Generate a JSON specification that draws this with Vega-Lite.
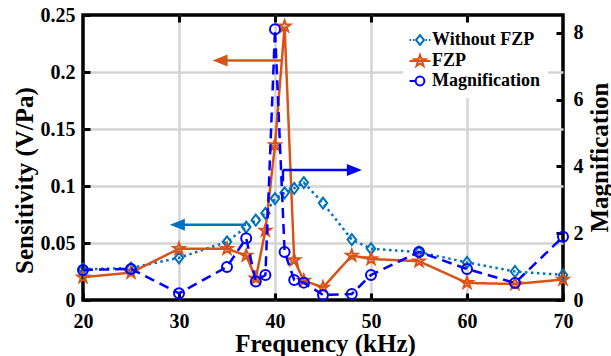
{
  "$schema": "https://vega.github.io/schema/vega-lite/v6.json",
  "width": 480,
  "height": 285,
  "autosize": {"type": "none"},
  "padding": {"left": 83, "top": 15, "right": 48, "bottom": 56},
  "background": "white",
  "config": {
    "font": "Liberation Serif",
    "view": {"stroke": "black", "strokeWidth": 3.5},
    "axis": {
      "labelFont": "Liberation Serif", "labelFontWeight": "bold", "labelFontSize": 20, "labelColor": "black",
      "titleFont": "Liberation Serif", "titleFontWeight": "bold", "titleFontSize": 25, "titleColor": "black",
      "domain": false, "tickColor": "black", "tickWidth": 3, "tickSize": -7, "labelFlush": false, "labelOverlap": false,
      "gridColor": "#d4d4d4", "gridWidth": 2.5
    }
  },
  "datasets": {
    "main": [
      {"f": 20, "series": "Without FZP", "value": 0.027},
      {"f": 25, "series": "Without FZP", "value": 0.028},
      {"f": 30, "series": "Without FZP", "value": 0.037},
      {"f": 35, "series": "Without FZP", "value": 0.051},
      {"f": 37, "series": "Without FZP", "value": 0.064},
      {"f": 38, "series": "Without FZP", "value": 0.070},
      {"f": 39, "series": "Without FZP", "value": 0.076},
      {"f": 40, "series": "Without FZP", "value": 0.089},
      {"f": 41, "series": "Without FZP", "value": 0.094},
      {"f": 42, "series": "Without FZP", "value": 0.098},
      {"f": 43, "series": "Without FZP", "value": 0.103},
      {"f": 45, "series": "Without FZP", "value": 0.085},
      {"f": 48, "series": "Without FZP", "value": 0.053},
      {"f": 50, "series": "Without FZP", "value": 0.045},
      {"f": 55, "series": "Without FZP", "value": 0.042},
      {"f": 60, "series": "Without FZP", "value": 0.033},
      {"f": 65, "series": "Without FZP", "value": 0.025},
      {"f": 70, "series": "Without FZP", "value": 0.022},
      {"f": 20, "series": "FZP", "value": 0.020},
      {"f": 25, "series": "FZP", "value": 0.024},
      {"f": 30, "series": "FZP", "value": 0.045},
      {"f": 35, "series": "FZP", "value": 0.045},
      {"f": 37, "series": "FZP", "value": 0.039},
      {"f": 38, "series": "FZP", "value": 0.019},
      {"f": 39, "series": "FZP", "value": 0.061},
      {"f": 40, "series": "FZP", "value": 0.136},
      {"f": 41, "series": "FZP", "value": 0.240},
      {"f": 42, "series": "FZP", "value": 0.035},
      {"f": 43, "series": "FZP", "value": 0.017},
      {"f": 45, "series": "FZP", "value": 0.011},
      {"f": 48, "series": "FZP", "value": 0.039},
      {"f": 50, "series": "FZP", "value": 0.036},
      {"f": 55, "series": "FZP", "value": 0.034},
      {"f": 60, "series": "FZP", "value": 0.015},
      {"f": 65, "series": "FZP", "value": 0.014},
      {"f": 70, "series": "FZP", "value": 0.018},
      {"f": 20, "series": "Magnification", "value": 0.90},
      {"f": 25, "series": "Magnification", "value": 0.93},
      {"f": 30, "series": "Magnification", "value": 0.20},
      {"f": 35, "series": "Magnification", "value": 0.99},
      {"f": 37, "series": "Magnification", "value": 1.85},
      {"f": 38, "series": "Magnification", "value": 0.55},
      {"f": 39, "series": "Magnification", "value": 0.75},
      {"f": 40, "series": "Magnification", "value": 8.1},
      {"f": 41, "series": "Magnification", "value": 1.44},
      {"f": 42, "series": "Magnification", "value": 0.60},
      {"f": 43, "series": "Magnification", "value": 0.52},
      {"f": 45, "series": "Magnification", "value": 0.15},
      {"f": 48, "series": "Magnification", "value": 0.18},
      {"f": 50, "series": "Magnification", "value": 0.75},
      {"f": 55, "series": "Magnification", "value": 1.44},
      {"f": 60, "series": "Magnification", "value": 0.93},
      {"f": 65, "series": "Magnification", "value": 0.51},
      {"f": 70, "series": "Magnification", "value": 1.89}
    ],
    "arrows": [
      {"series": "FZP", "xa": 34, "xb": 40.75, "ya": 0.21, "yb": 0.21},
      {"series": "Without FZP", "xa": 30, "xb": 37, "ya": 0.066, "yb": 0.066},
      {"series": "Magnification", "xa": 40.83, "xb": 48, "ya": 0.114, "yb": 0.114},
      {"series": "Magnification", "xa": 40.83, "xb": 40.83, "ya": 0.104, "yb": 0.114}
    ],
    "heads": [
      {"series": "FZP", "x": 33.5, "y": 0.21, "dir": "left"},
      {"series": "Without FZP", "x": 29.05, "y": 0.066, "dir": "left"},
      {"series": "Magnification", "x": 49.05, "y": 0.114, "dir": "right"}
    ]
  },
  "layer": [
    {
      "data": {"name": "main"},
      "transform": [{"filter": "datum.series !== 'Magnification'"}],
      "mark": {"type": "line", "strokeWidth": 2.5},
      "encoding": {
        "x": {"field": "f", "type": "quantitative", "scale": {"domain": [20, 70], "nice": false},
          "axis": {"orient": "bottom", "title": "Frequency (kHz)", "values": [20, 30, 40, 50, 60, 70],
            "labelPadding": 18, "titleX": 242, "titleY": 43, "titleBaseline": "middle", "titleAlign": "center",
            "grid": true, "gridOpacity": {"condition": {"test": "datum.value === 20 || datum.value === 70", "value": 0}, "value": 1}}},
        "y": {"field": "value", "type": "quantitative", "scale": {"domain": [0, 0.25], "nice": false},
          "axis": {"orient": "left", "title": "Sensitivity (V/Pa)", "values": [0, 0.05, 0.1, 0.15, 0.2, 0.25], "format": "~g",
            "labelPadding": 15, "titleX": -59, "titleY": 165, "titleAngle": 270, "titleBaseline": "middle", "titleAlign": "center",
            "grid": true, "gridOpacity": {"condition": {"test": "datum.value === 0 || datum.value === 0.25", "value": 0}, "value": 1}}},
        "stroke": {"field": "series", "type": "nominal",
          "scale": {"domain": ["FZP", "Magnification", "Without FZP"], "range": ["#D95319", "#0000FF", "#0072BD"]},
          "legend": null},
        "strokeDash": {"field": "series", "type": "nominal",
          "scale": {"domain": ["Magnification", "Without FZP", "FZP"], "range": [[10, 6], [2.5, 3.5], [1, 0]]},
          "legend": null}
      }
    },
    {
      "data": {"name": "main"},
      "transform": [{"filter": "datum.series === 'Without FZP'"}],
      "mark": {"type": "point", "shape": "M0,-1.1L0.85,0L0,1.1L-0.85,0Z", "filled": false, "fill": "transparent", "strokeWidth": 2, "size": 100, "opacity": 1},
      "encoding": {
        "x": {"field": "f", "type": "quantitative", "scale": {"domain": [20, 70], "nice": false},
          "axis": {"orient": "top", "title": null, "labels": false, "values": [30, 40, 50, 60], "grid": false}},
        "y": {"field": "value", "type": "quantitative", "scale": {"domain": [0, 0.25], "nice": false}, "axis": null},
        "stroke": {"field": "series", "type": "nominal", "legend": null}
      }
    },
    {
      "data": {"name": "main"},
      "transform": [{"filter": "datum.series === 'FZP'"}],
      "mark": {"type": "point", "shape": "M0,-1.2L0.282,-0.388L1.141,-0.371L0.457,0.148L0.705,0.971L0,0.48L-0.705,0.971L-0.457,0.148L-1.141,-0.371L-0.282,-0.388Z", "filled": false, "fill": "transparent", "strokeWidth": 2, "size": 100, "opacity": 1},
      "encoding": {
        "x": {"field": "f", "type": "quantitative", "scale": {"domain": [20, 70], "nice": false}, "axis": null},
        "y": {"field": "value", "type": "quantitative", "scale": {"domain": [0, 0.25], "nice": false}, "axis": null},
        "stroke": {"field": "series", "type": "nominal", "legend": null}
      }
    },
    {
      "data": {"name": "arrows"},
      "mark": {"type": "rule", "strokeWidth": 2.5},
      "encoding": {
        "x": {"field": "xa", "type": "quantitative", "scale": {"domain": [20, 70], "nice": false}, "axis": null},
        "x2": {"field": "xb"},
        "y": {"field": "ya", "type": "quantitative", "scale": {"domain": [0, 0.25], "nice": false}, "axis": null},
        "y2": {"field": "yb"},
        "stroke": {"field": "series", "type": "nominal", "legend": null}
      }
    },
    {
      "data": {"name": "heads"},
      "transform": [{"filter": "datum.dir === 'left'"}],
      "mark": {"type": "point", "shape": "M0,0L2,-0.8L2,0.8Z", "filled": true, "size": 225, "opacity": 1, "strokeWidth": 0},
      "encoding": {
        "x": {"field": "x", "type": "quantitative", "scale": {"domain": [20, 70], "nice": false}, "axis": null},
        "y": {"field": "y", "type": "quantitative", "scale": {"domain": [0, 0.25], "nice": false}, "axis": null},
        "fill": {"field": "series", "type": "nominal",
          "scale": {"domain": ["Magnification", "FZP", "Without FZP"], "range": ["#0000FF", "#D95319", "#0072BD"]},
          "legend": null}
      }
    },
    {
      "data": {"name": "heads"},
      "transform": [{"filter": "datum.dir === 'right'"}],
      "mark": {"type": "point", "shape": "M0,0L-2,-0.8L-2,0.8Z", "filled": true, "size": 225, "opacity": 1, "strokeWidth": 0},
      "encoding": {
        "x": {"field": "x", "type": "quantitative", "scale": {"domain": [20, 70], "nice": false}, "axis": null},
        "y": {"field": "y", "type": "quantitative", "scale": {"domain": [0, 0.25], "nice": false}, "axis": null},
        "fill": {"field": "series", "type": "nominal", "legend": null}
      }
    },
    {
      "data": {"name": "main"},
      "transform": [{"filter": "datum.series === 'Magnification'"}],
      "mark": {"type": "line", "strokeWidth": 2.5},
      "encoding": {
        "x": {"field": "f", "type": "quantitative", "scale": {"domain": [20, 70], "nice": false}, "axis": null},
        "y": {"field": "value", "type": "quantitative", "scale": {"domain": [0, 8.53], "nice": false},
          "axis": {"orient": "right", "title": "Magnification", "values": [0, 2, 4, 6, 8],
            "labelPadding": 17, "titleX": 36, "titleY": 142, "titleAngle": 270, "titleBaseline": "middle", "titleAlign": "center", "grid": false}},
        "stroke": {"field": "series", "type": "nominal", "legend": null},
        "strokeDash": {"field": "series", "type": "nominal", "legend": null}
      }
    },
    {
      "data": {"name": "main"},
      "transform": [{"filter": "datum.series === 'Magnification'"}],
      "mark": {"type": "point", "shape": "circle", "filled": false, "fill": "transparent", "strokeWidth": 2, "size": 100, "opacity": 1},
      "encoding": {
        "x": {"field": "f", "type": "quantitative", "scale": {"domain": [20, 70], "nice": false}, "axis": null},
        "y": {"field": "value", "type": "quantitative", "scale": {"domain": [0, 8.53], "nice": false}, "axis": null},
        "stroke": {"field": "series", "type": "nominal", "legend": null}
      }
    },
    {
      "data": {"name": "main"},
      "mark": {"type": "point", "filled": false, "strokeWidth": 2, "size": 256, "opacity": 0},
      "encoding": {
        "x": {"field": "f", "type": "quantitative", "scale": {"domain": [20, 70], "nice": false}, "axis": null},
        "color": {"field": "series", "type": "nominal",
          "scale": {"domain": ["Without FZP", "FZP", "Magnification"], "range": ["#0072BD", "#D95319", "#0000FF"]},
          "legend": {"orient": "none", "legendX": 320, "legendY": 8, "title": null, "symbolOpacity": 1,
            "labelFont": "Liberation Serif", "labelFontWeight": "bold", "labelFontSize": 18, "labelColor": "black",
            "symbolSize": 256, "symbolStrokeWidth": 2, "labelOffset": 3, "rowPadding": 2, "padding": 8, "fillColor": "white"}},
        "shape": {"field": "series", "type": "nominal",
          "scale": {"domain": ["Without FZP", "FZP", "Magnification"],
            "range": [
              "M-1.31,0h0.2M-0.9,0h0.2M0.7,0h0.2M1.11,0h0.2M0,-0.62L0.5,0L0,0.62L-0.5,0Z",
              "M-1.31,0H1.31M0,-0.75L0.18,-0.24L0.71,-0.23L0.28,0.09L0.44,0.61L0,0.3L-0.44,0.61L-0.28,0.09L-0.71,-0.23L-0.18,-0.24Z",
              "M-1.31,0h0.7M0.55,0A0.55,0.55 0 1,1 -0.55,0A0.55,0.55 0 1,1 0.55,0Z"]},
          "legend": {"orient": "none", "legendX": 320, "legendY": 8, "title": null, "symbolOpacity": 1,
            "labelFont": "Liberation Serif", "labelFontWeight": "bold", "labelFontSize": 18, "labelColor": "black",
            "symbolSize": 256, "symbolStrokeWidth": 2, "labelOffset": 3, "rowPadding": 2, "padding": 8, "fillColor": "white"}}
      }
    }
  ],
  "resolve": {"scale": {"y": "independent"}}
}
